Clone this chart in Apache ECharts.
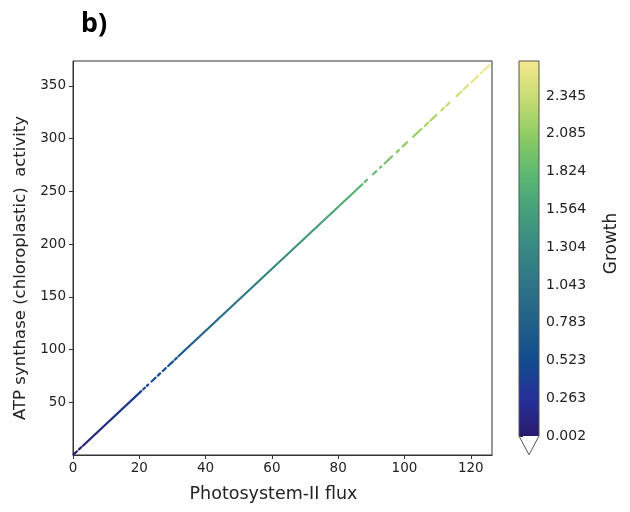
<!DOCTYPE html>
<html>
<head>
<meta charset="utf-8">
<script src="https://cdn.jsdelivr.net/npm/echarts@6/dist/echarts.min.js"></script>
<style>
  html, body { margin: 0; padding: 0; background: #ffffff; }
  #chart { width: 630px; height: 512px; }
</style>
</head>
<body>
<div id="chart"></div>
<script>
// Runs of samples along the flux/activity relation: start and end of each run
const segX0 = [0.2, 1.8, 3.0, 21.2, 22.3, 23.7, 25.6, 27.1, 28.7, 30.7, 31.8,
               88.0, 90.5, 92.6, 94.0, 97.7, 99.5, 102.6, 106.1, 107.8, 111.1,
               112.6, 115.7, 117.9, 120.2, 123.0, 124.0];
const segX1 = [1.2, 2.5, 20.6, 21.7, 22.7, 24.9, 26.3, 28.0, 30.2, 31.3, 87.3,
               88.7, 91.5, 93.0, 96.3, 98.3, 100.8, 105.1, 107.1, 109.6, 111.9,
               113.6, 117.2, 119.2, 122.2, 123.4, 125.7];
const segY0 = [0.6, 5.3, 8.8, 62.4, 65.6, 69.7, 75.3, 79.7, 84.4, 90.3, 93.6,
               258.9, 266.3, 272.4, 276.5, 287.4, 292.7, 301.8, 312.1, 317.1, 326.9,
               331.3, 340.4, 346.9, 353.6, 361.9, 364.8];
const segY1 = [3.5, 7.4, 60.6, 63.8, 66.8, 73.3, 77.4, 82.4, 88.8, 92.1, 256.8,
               261.0, 269.2, 273.6, 283.3, 289.2, 296.6, 309.2, 315.1, 322.4, 329.2,
               334.2, 344.8, 350.7, 359.5, 363.0, 369.8];
// Growth at the start and end of each run
const segG0 = [0.01, 0.04, 0.06, 0.43, 0.45, 0.48, 0.52, 0.55, 0.59, 0.63, 0.65,
               1.80, 1.86, 1.90, 1.93, 2.00, 2.04, 2.10, 2.18, 2.21, 2.28,
               2.31, 2.37, 2.42, 2.47, 2.52, 2.54];
const segG1 = [0.03, 0.05, 0.42, 0.44, 0.46, 0.51, 0.54, 0.57, 0.62, 0.64, 1.79,
               1.82, 1.88, 1.91, 1.97, 2.02, 2.07, 2.15, 2.20, 2.25, 2.30,
               2.33, 2.40, 2.44, 2.51, 2.53, 2.58];

const xTicks = [0, 20, 40, 60, 80, 100, 120];
const yTicks = [50, 100, 150, 200, 250, 300, 350];
const growthTicks = [0.002, 0.263, 0.523, 0.783, 1.043, 1.304, 1.564, 1.824, 2.085, 2.345];
const growthMin = 0.002;
const growthMax = 2.586;

// Sequential colour ramp (dark indigo -> blue -> teal -> green -> pale yellow)
const rampStops = [
  [0.0, '#2a1a6c'], [0.1, '#25309a'], [0.2, '#134b8e'], [0.3, '#215f88'],
  [0.4, '#2e7386'], [0.5, '#388884'], [0.6, '#45a07d'], [0.7, '#5db872'],
  [0.8, '#8dcb63'], [0.9, '#c8dc74'], [1.0, '#f5e98f']
];

function hexRgb(h) {
  return [parseInt(h.slice(1, 3), 16), parseInt(h.slice(3, 5), 16), parseInt(h.slice(5, 7), 16)];
}
function ramp(v) {
  let t = (v - growthMin) / (growthMax - growthMin);
  t = Math.max(0, Math.min(1, t));
  for (let i = 1; i < rampStops.length; i++) {
    if (t <= rampStops[i][0]) {
      const [t0, c0] = rampStops[i - 1];
      const [t1, c1] = rampStops[i];
      const f = (t - t0) / (t1 - t0);
      const a = hexRgb(c0), b = hexRgb(c1);
      const c = a.map((x, k) => Math.round(x + (b[k] - x) * f));
      return 'rgb(' + c.join(',') + ')';
    }
  }
  return rampStops[rampStops.length - 1][1];
}

const FONT = 'DejaVu Sans';
const TXT = '#222222';
const LINE = '#333333';

const runSeries = segX0.map((x0, i) => ({
  type: 'line',
  xAxisIndex: 0,
  yAxisIndex: 0,
  data: [[x0, segY0[i]], [segX1[i], segY1[i]]],
  symbol: 'none',
  silent: true,
  animation: false,
  z: 3,
  lineStyle: {
    width: 2.2,
    cap: 'round',
    color: new echarts.graphic.LinearGradient(0, 1, 1, 0, [
      { offset: 0, color: ramp(segG0[i]) },
      { offset: 1, color: ramp(segG1[i]) }
    ])
  }
}));

const colorbarSeries = {
  type: 'custom',
  xAxisIndex: 1,
  yAxisIndex: 1,
  data: [[0, growthMin]],
  clip: false,
  silent: true,
  animation: false,
  renderItem: function (params, api) {
    const tl = api.coord([0, growthMax]);
    const br = api.coord([1, growthMin]);
    const tip = api.coord([0.5, growthMin - 0.05 * (growthMax - growthMin)]);
    const stops = rampStops.map(s => ({ offset: s[0], color: s[1] }));
    return {
      type: 'group',
      children: [
        {
          type: 'rect',
          shape: { x: tl[0], y: tl[1], width: br[0] - tl[0], height: br[1] - tl[1] },
          style: { fill: new echarts.graphic.LinearGradient(0, 1, 0, 0, stops) }
        },
        {
          type: 'polygon',
          shape: { points: [[tl[0], tl[1]], [br[0], tl[1]], [br[0], br[1]], [tip[0], tip[1]], [tl[0], br[1]]] },
          style: { fill: 'none', stroke: '#555555', lineWidth: 1 }
        }
      ]
    };
  }
};

const chart = echarts.init(document.getElementById('chart'), null, { renderer: 'canvas' });
chart.setOption({
  animation: false,
  backgroundColor: '#ffffff',
  title: {
    text: 'b)',
    left: 76,
    top: 6,
    textStyle: { fontFamily: 'Noto Sans', fontWeight: 'bold', fontSize: 27, color: '#000000' }
  },
  grid: [
    { left: 73, top: 61, width: 419, height: 394, show: true, borderColor: LINE, borderWidth: 1, backgroundColor: 'transparent' },
    { left: 519, top: 61, width: 20, height: 375 }
  ],
  xAxis: [
    {
      type: 'value', gridIndex: 0, min: 0, max: 126.4,
      axisLine: { show: true, onZero: false, lineStyle: { color: LINE, width: 1 } },
      axisTick: { show: true, inside: false, length: 4, customValues: xTicks, lineStyle: { color: LINE } },
      axisLabel: { customValues: xTicks, color: TXT, fontFamily: FONT, fontSize: 13.5, margin: 6 },
      splitLine: { show: false },
      name: 'Photosystem-II flux',
      nameLocation: 'middle',
      nameGap: 30,
      nameTextStyle: { fontFamily: FONT, fontSize: 17.5, color: TXT, padding: [0, 18, 0, 0] }
    },
    { type: 'value', gridIndex: 1, min: 0, max: 1, show: false }
  ],
  yAxis: [
    {
      type: 'value', gridIndex: 0, min: 0, max: 373.7,
      axisLine: { show: true, onZero: false, lineStyle: { color: LINE, width: 1 } },
      axisTick: { show: true, inside: false, length: 4, customValues: yTicks, lineStyle: { color: LINE } },
      axisLabel: { customValues: yTicks, color: TXT, fontFamily: FONT, fontSize: 13.5, margin: 7 },
      splitLine: { show: false },
      name: 'ATP synthase (chloroplastic)  activity',
      nameLocation: 'middle',
      nameGap: 40,
      nameTextStyle: { fontFamily: FONT, fontSize: 16.5, color: TXT, padding: [0, 20, 0, 0] }
    },
    {
      type: 'value', gridIndex: 1, min: growthMin, max: growthMax, position: 'right',
      axisLine: { show: false },
      axisTick: { show: true, inside: false, length: 4, customValues: growthTicks, lineStyle: { color: LINE } },
      axisLabel: { customValues: growthTicks, color: TXT, fontFamily: FONT, fontSize: 14, margin: 7, formatter: v => v.toFixed(3) },
      splitLine: { show: false },
      name: 'Growth',
      nameLocation: 'middle',
      nameRotate: 90,
      nameGap: 64,
      nameTextStyle: { fontFamily: FONT, fontSize: 17, color: TXT, padding: [0, 0, 0, 10] }
    }
  ],
  series: runSeries.concat([colorbarSeries])
});
</script>
</body>
</html>
